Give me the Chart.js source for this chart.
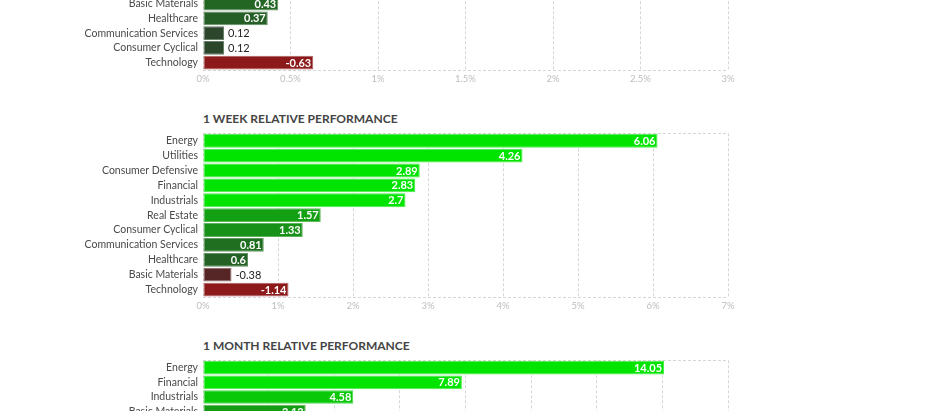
<!DOCTYPE html>
<html>
<head>
<meta charset="utf-8">
<script src="https://cdn.jsdelivr.net/npm/chart.js@4.4.0/dist/chart.umd.min.js"></script>
<style>
  body { margin: 0; width: 940px; height: 411px; overflow: hidden; background: #fff; position: relative; font-family: Lato, sans-serif; }
  .title { position: absolute; left: 203px; font: bold 12px Lato, sans-serif; color: #444; line-height: 16px; }
  canvas { position: absolute; left: 0; }
</style>
</head>
<body>
<canvas id="dayChart" width="760" height="110" style="top:-15px"></canvas>

<div class="title" style="top:111px">1 WEEK RELATIVE PERFORMANCE</div>
<canvas id="weekChart" width="760" height="200" style="top:122px"></canvas>

<div class="title" style="top:338px">1 MONTH RELATIVE PERFORMANCE</div>
<canvas id="monthChart" width="760" height="95" style="top:349px"></canvas>

<script>
// only the rows that are visible in the picture
const dayLabels = ['Basic Materials', 'Healthcare', 'Communication Services', 'Consumer Cyclical', 'Technology']
const dayValues = [0.43, 0.37, 0.12, 0.12, -0.63]

const weekLabels = ['Energy', 'Utilities', 'Consumer Defensive', 'Financial', 'Industrials', 'Real Estate',
  'Consumer Cyclical', 'Communication Services', 'Healthcare', 'Basic Materials', 'Technology']
const weekValues = [6.06, 4.26, 2.89, 2.83, 2.7, 1.57, 1.33, 0.81, 0.6, -0.38, -1.14]

const monthLabels = ['Energy', 'Financial', 'Industrials', 'Basic Materials']
const monthValues = [14.05, 7.89, 4.58, 3.13]

function mix(a, b, t) {
  return a.map((v, i) => Math.round(v + (b[i] - v) * t))
}
function barColor(v, full, negFull) {
  let c
  if (v >= 0) c = mix([47, 58, 47], [0, 228, 0], Math.min(v / full, 1))
  else c = mix([58, 44, 44], [140, 26, 26], Math.min(-v / negFull, 1))
  return c
}
const rgb = c => `rgb(${c[0]},${c[1]},${c[2]})`

// value text at the end of each bar, inside if it fits
const valueLabels = {
  id: 'valueLabels',
  afterDatasetsDraw(chart) {
    const ctx = chart.ctx
    const vals = chart.options.rawValues
    chart.getDatasetMeta(0).data.forEach((bar, i) => {
      const txt = String(vals[i])
      const w = bar.x - bar.base
      ctx.save()
      ctx.textBaseline = 'middle'
      ctx.font = 'bold 11px Lato'
      const tw = ctx.measureText(txt).width
      if (w > tw + 6) {
        ctx.fillStyle = '#fff'
        ctx.textAlign = 'right'
        ctx.fillText(txt, bar.x - 2, bar.y + 0.5)
      } else {
        ctx.font = '11px Lato'
        ctx.fillStyle = '#222'
        ctx.textAlign = 'left'
        ctx.fillText(txt, bar.x + 4, bar.y + 0.5)
      }
      ctx.restore()
    })
  }
}

// dashed lines along the top and bottom of the plot
const frame = {
  id: 'frame',
  beforeDatasetsDraw(chart) {
    const { ctx, chartArea } = chart
    ctx.save()
    ctx.strokeStyle = '#d6d6d6'
    ctx.lineWidth = 1
    ctx.setLineDash([3, 2])
    for (const y of [chartArea.top, chartArea.bottom]) {
      ctx.beginPath()
      ctx.moveTo(chartArea.left, Math.round(y) + 0.5)
      ctx.lineTo(chartArea.right, Math.round(y) + 0.5)
      ctx.stroke()
    }
    ctx.restore()
  }
}

function makeChart(id, labels, values, max, step, full, negFull) {
  const colors = values.map(v => barColor(v, full, negFull))
  return new Chart(document.getElementById(id), {
    type: 'bar',
    data: {
      labels: labels,
      datasets: [{
        data: values.map(v => Math.abs(v)),
        backgroundColor: colors.map(rgb),
        borderColor: colors.map(c => rgb(mix(c, [255, 255, 255], 0.3))),
        borderWidth: 1,
        borderSkipped: false,
        barPercentage: 0.93,
        categoryPercentage: 1
      }]
    },
    options: {
      rawValues: values,
      indexAxis: 'y',
      responsive: false,
      animation: false,
      devicePixelRatio: 1,
      layout: { padding: { top: 10, right: 32, left: 0, bottom: 0 } },
      plugins: { legend: { display: false }, tooltip: { enabled: false } },
      scales: {
        x: {
          min: 0,
          max: max,
          ticks: {
            stepSize: step,
            padding: 3,
            color: '#bdbdbd',
            font: { family: 'Lato', size: 9.5 },
            callback: v => v + '%'
          },
          grid: { color: '#d6d6d6', drawTicks: false },
          border: { display: false, dash: [3, 2] },
          afterFit: s => { s.height = 25 }
        },
        y: {
          grid: { display: false, drawTicks: false },
          border: { display: false },
          ticks: {
            autoSkip: false,
            padding: 5,
            color: '#4a4a4a',
            font: { family: 'Lato', size: 10.5 }
          },
          afterFit: s => { s.width = 203 }
        }
      }
    },
    plugins: [frame, valueLabels]
  })
}

makeChart('dayChart', dayLabels, dayValues, 3, 0.5, 1.7, 0.6)
makeChart('weekChart', weekLabels, weekValues, 7, 1, 2.6, 1.1)
makeChart('monthChart', monthLabels, monthValues, 16, 2, 5.5, 1.5)
</script>
</body>
</html>
